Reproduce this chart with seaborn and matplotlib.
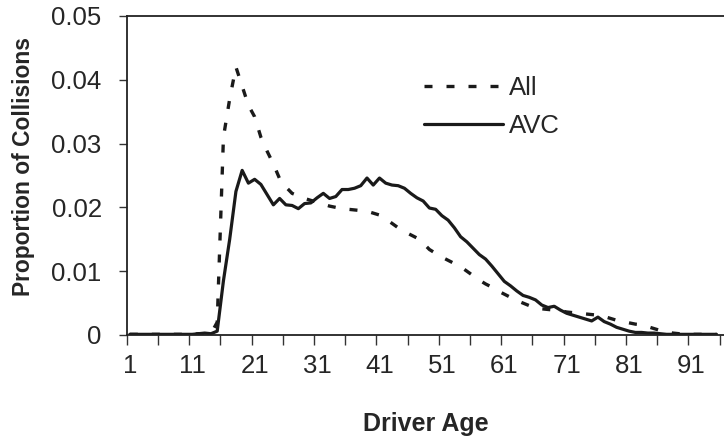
import numpy as np
import pandas as pd
import seaborn as sns
import matplotlib
matplotlib.use("Agg")
import matplotlib.pyplot as plt

ages = list(range(1, 96))

all_vals = [
    0.0001, 0.0001, 0.0001, 0.0001, 0.0001, 0.0001, 0.0001, 0.0001, 0.0001, 0.0001,
    0.0001, 0.0002, 0.0002, 0.0002, 0.0020, 0.0310, 0.0370, 0.0420, 0.0390, 0.0360,
    0.0342, 0.0310, 0.0288, 0.0268, 0.0245, 0.0232, 0.0222, 0.0218, 0.0214, 0.0211,
    0.0208, 0.0205, 0.0202, 0.0200, 0.0199, 0.0197, 0.0196, 0.0195, 0.0194, 0.0191,
    0.0188, 0.0182, 0.0175, 0.0168, 0.0162, 0.0157, 0.0152, 0.0144, 0.0134, 0.0128,
    0.0122, 0.0117, 0.0112, 0.0107, 0.0100, 0.0093, 0.0086, 0.0080, 0.0075, 0.0069,
    0.0064, 0.0059, 0.0054, 0.0050, 0.0046, 0.0043, 0.0041, 0.0040, 0.0039, 0.0038,
    0.0036, 0.0035, 0.0034, 0.0033, 0.0032, 0.0031, 0.0029, 0.0026, 0.0023, 0.0021,
    0.0019, 0.0017, 0.0016, 0.0013, 0.0010, 0.0007, 0.0005, 0.0003, 0.0002, 0.0001,
    0.0001, 0.0001, 0.0001, 0.0001, 0.0001,
]

avc_vals = [
    0.0001, 0.0001, 0.0001, 0.0001, 0.0001, 0.0001, 0.0001, 0.0001, 0.0001, 0.0001,
    0.0001, 0.0002, 0.0003, 0.0002, 0.0006, 0.0085, 0.0150, 0.0225, 0.0258, 0.0238,
    0.0244, 0.0236, 0.0220, 0.0204, 0.0214, 0.0204, 0.0203, 0.0198, 0.0206, 0.0207,
    0.0215, 0.0222, 0.0214, 0.0217, 0.0228, 0.0228, 0.0230, 0.0234, 0.0246, 0.0235,
    0.0246, 0.0238, 0.0235, 0.0234, 0.0230, 0.0222, 0.0215, 0.0210, 0.0199, 0.0197,
    0.0187, 0.0180, 0.0168, 0.0154, 0.0146, 0.0136, 0.0126, 0.0119, 0.0108, 0.0096,
    0.0084, 0.0077, 0.0069, 0.0062, 0.0059, 0.0055, 0.0047, 0.0043, 0.0045, 0.0039,
    0.0034, 0.0031, 0.0028, 0.0025, 0.0022, 0.0028, 0.0021, 0.0017, 0.0012, 0.0009,
    0.0006, 0.0004, 0.0004, 0.0003, 0.0003, 0.0002, 0.0001, 0.0001, 0.0001, 0.0001,
    0.0001, 0.0001, 0.0001, 0.0001, 0.0001,
]

x_labels = [1, 11, 21, 31, 41, 51, 61, 71, 81, 91]
y_ticks = [0, 0.01, 0.02, 0.03, 0.04, 0.05]
y_labels = ["0", "0.01", "0.02", "0.03", "0.04", "0.05"]

sns.set_style("white")
plt.rcParams["font.family"] = ["Liberation Sans", "DejaVu Sans"]

df = pd.DataFrame({"age": ages, "All": all_vals, "AVC": avc_vals})

fig = plt.figure(figsize=(7.24, 4.38), dpi=100)
ax = fig.add_axes([0.175, 0.2352, 0.825, 0.7283])

sns.lineplot(data=df, x="age", y="All", ax=ax, color="#1a1a1a",
             linewidth=2.4, label="All")
sns.lineplot(data=df, x="age", y="AVC", ax=ax, color="#1a1a1a",
             linewidth=2.3, label="AVC")
ax.lines[0].set_dashes((2.4, 4.2))

ax.set_xlim(0.5, 96.2)
ax.set_ylim(0, 0.05)

ax.set_xticks(x_labels)
ax.set_xticklabels([str(v) for v in x_labels])
ax.set_xticks(np.arange(0.5, 96, 5), minor=True)
ax.tick_params(axis="x", which="major", length=0, pad=14, labelsize=18.5)
ax.tick_params(axis="x", which="minor", length=7, width=1, color="#333333",
               direction="out", bottom=True)

ax.set_yticks(y_ticks)
ax.set_yticklabels(y_labels)
ax.tick_params(axis="y", which="major", length=6, width=1, color="#333333",
               direction="out", left=True, labelsize=18.5, pad=12)

for side in ["left", "bottom", "top"]:
    ax.spines[side].set_color("#222222")
    ax.spines[side].set_linewidth(1.3)
ax.spines["right"].set_visible(False)

ax.set_xlabel("Driver Age", fontsize=18, fontweight="bold", labelpad=24)
ax.set_ylabel("Proportion of Collisions", fontsize=16.4, fontweight="bold")
ax.yaxis.set_label_coords(-0.153, 0.527)

leg = ax.legend(loc="upper left", bbox_to_anchor=(0.48, 0.845), frameon=False,
                fontsize=18.5, handlelength=3.1, handletextpad=0.2,
                labelspacing=0.55, borderaxespad=0)

fig.savefig("out.png", dpi=100)
